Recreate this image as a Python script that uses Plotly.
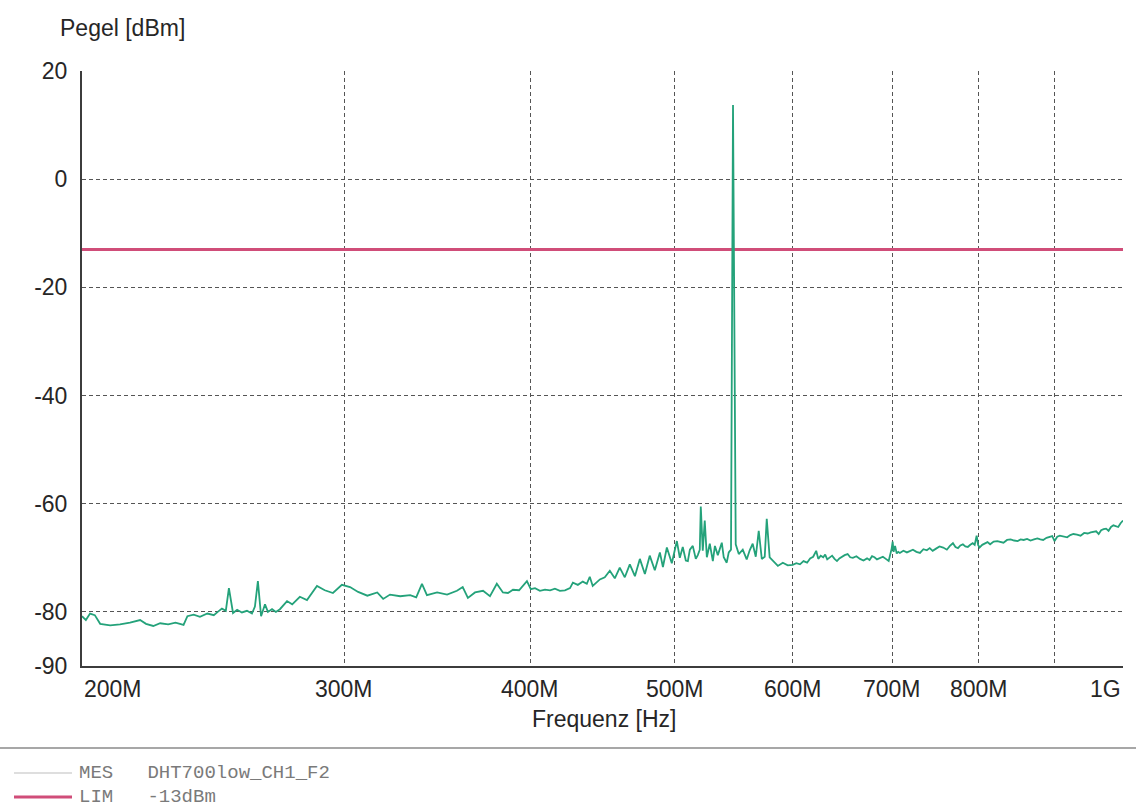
import math
import plotly.graph_objects as go

# ---------------- data ----------------
# measured trace, 200 MHz .. 600 MHz
freq_low_mhz = [
    200.0, 201.2, 202.5, 204.0, 205.7, 208.9, 212.1, 215.4, 218.8, 220.8,
    223.3, 225.7, 228.5, 231.1, 234.0, 235.4, 237.7, 240.0, 242.8, 245.2,
    246.7, 248.3, 249.8, 251.0, 252.6, 254.2, 256.1, 258.1, 260.1, 261.3,
    262.5, 263.8, 265.4, 266.6, 268.3, 269.9, 271.6, 274.6, 276.8, 278.9,
    280.1, 283.2, 285.4, 287.6, 291.1, 294.8, 298.9, 302.7, 306.5, 310.9,
    315.7, 318.6, 322.0, 327.1, 332.2, 335.3, 338.3, 340.9, 346.3, 351.7,
    357.1, 360.3, 363.2, 367.2, 371.8, 375.8, 379.8, 383.4, 386.4, 389.4,
    393.1, 395.5, 397.9, 400.3, 402.9, 406.0, 409.2, 412.4, 415.5, 418.7,
    422.0, 425.3, 427.2, 430.5, 433.8, 436.5, 438.5, 440.5, 443.3, 445.4,
    448.8, 452.3, 455.8, 459.3, 462.9, 466.5, 470.2, 473.8, 477.5, 481.1,
    484.9, 488.7, 491.0, 494.0, 497.8, 501.7, 504.0, 506.3, 508.7, 510.3,
    511.9, 514.2, 516.6, 518.2, 519.8, 520.6, 522.2, 523.8, 525.5, 527.9,
    530.4, 532.1, 534.5, 537.8, 539.4, 541.9, 543.6, 545.5, 547.2, 549.5,
    552.1, 555.5, 558.9, 561.5, 564.1, 566.8, 569.4, 572.1, 574.7, 576.5,
    579.1, 583.7, 586.5, 591.0, 595.5,
]
level_low_dbm = [
    -80.8, -81.5, -80.3, -80.6, -82.2, -82.5, -82.3, -82.0, -81.5, -82.2,
    -82.6, -82.1, -82.3, -82.0, -82.4, -80.8, -80.5, -80.9, -80.3, -80.6,
    -80.0, -79.4, -79.8, -75.6, -80.2, -79.6, -80.1, -79.8, -80.3, -79.0,
    -74.3, -80.8, -78.6, -80.0, -79.5, -80.0, -79.5, -78.0, -78.6, -77.6,
    -77.2, -77.8, -76.5, -75.2, -76.0, -76.5, -75.0, -75.4, -76.3, -77.0,
    -76.4, -77.6, -76.8, -77.1, -76.9, -77.3, -74.8, -76.9, -76.4, -76.8,
    -76.1, -75.4, -77.4, -76.4, -76.1, -77.1, -74.8, -76.4, -76.5, -75.9,
    -76.0, -75.2, -74.3, -75.8, -75.6, -76.1, -75.9, -76.0, -75.7, -76.1,
    -76.0, -75.6, -74.6, -75.0, -74.4, -74.8, -73.5, -75.2, -74.6, -74.0,
    -73.6, -72.4, -73.8, -71.8, -73.6, -71.2, -73.4, -70.2, -73.0, -69.6,
    -72.3, -69.0, -71.7, -68.1, -71.0, -66.9, -70.0, -68.0, -70.5, -70.6,
    -68.5, -67.8, -70.2, -69.5, -68.5, -60.5, -68.7, -63.1, -69.9, -67.4,
    -70.6, -67.8, -69.5, -67.2, -69.9, -70.9, -69.0, -68.5, 13.7, -67.5,
    -69.3, -68.5, -70.3, -68.6, -67.4, -69.8, -65.0, -70.2, -69.8, -62.8,
    -69.9, -70.8, -71.5, -70.9, -71.4,
]
# measured trace, 600 MHz .. 1 GHz
freq_high_mhz = [
    600.1, 603.5, 606.9, 610.2, 613.6, 616.5, 619.4, 622.3, 624.3, 626.7,
    629.1, 631.0, 633.0, 635.4, 637.8, 640.2, 642.6, 645.0, 647.4, 650.3,
    653.3, 655.9, 658.6, 662.2, 665.9, 669.5, 673.2, 675.8, 678.4, 681.0,
    683.6, 686.7, 689.9, 693.0, 696.1, 699.3, 700.4, 701.4, 703.0, 704.8,
    706.5, 708.2, 712.1, 716.0, 719.3, 722.7, 726.6, 730.6, 734.5, 738.4,
    741.7, 745.1, 749.0, 753.0, 757.3, 761.6, 765.2, 768.8, 771.8, 774.8,
    777.7, 780.7, 783.7, 786.7, 789.7, 792.7, 795.1, 797.5, 799.3, 801.1,
    804.4, 807.7, 811.0, 814.3, 818.8, 823.4, 827.3, 831.3, 835.9, 840.5,
    845.1, 849.7, 853.6, 857.6, 862.2, 866.8, 871.4, 876.0, 880.0, 883.9,
    888.5, 893.1, 896.4, 899.6, 903.3, 907.0, 912.1, 917.3, 921.7, 926.2,
    931.3, 936.5, 941.7, 946.9, 951.3, 955.7, 959.4, 963.1, 966.8, 970.5,
    974.2, 977.9, 981.6, 985.3, 989.0, 992.6, 996.3, 1000.0,
]
level_high_dbm = [
    -71.3, -71.0, -71.2, -70.6, -70.9, -70.1, -69.8, -68.7, -70.2, -69.6,
    -69.9, -69.4, -70.3, -69.9, -69.6, -70.2, -70.6, -70.1, -69.8, -69.5,
    -69.3, -69.9, -70.0, -69.7, -70.2, -70.5, -70.1, -70.4, -69.7, -69.9,
    -70.3, -70.0, -69.8, -70.2, -70.6, -68.3, -67.0, -68.9, -67.8, -69.2,
    -68.9, -69.1, -68.7, -69.0, -68.8, -68.5, -68.9, -69.1, -68.4, -68.6,
    -68.2, -68.7, -68.3, -67.9, -68.1, -68.5, -67.8, -67.3, -68.0, -68.2,
    -67.7, -67.5, -67.9, -68.0, -67.6, -67.3, -67.6, -65.9, -67.6, -68.1,
    -67.6, -67.4, -67.1, -67.5, -67.0, -66.9, -67.1, -67.2, -66.7, -66.6,
    -66.8, -66.9, -66.6, -66.7, -66.5, -66.8, -66.6, -66.4, -66.6, -66.7,
    -66.3, -66.2, -66.0, -66.9, -66.1, -65.9, -66.0, -66.2, -65.8, -65.6,
    -65.7, -65.9, -65.4, -65.5, -65.3, -65.2, -65.1, -65.6, -64.9, -64.7,
    -64.6, -65.0, -64.3, -64.0, -64.2, -64.3, -63.6, -63.1,
]
limit_dbm = -13
x_range_mhz = [200, 1000]
y_range = [-90, 20]
x_tick_vals = [200, 300, 400, 500, 600, 700, 800, 900, 1000]
x_tick_text = ["200M", "300M", "400M", "500M", "600M", "700M", "800M", "", "1G"]
x_tick_anchor = ["left", "center", "center", "center", "center", "center", "center", "center", "right"]
y_tick_vals = [20, 0, -20, -40, -60, -80, -90]
y_tick_text = ["20", "0", "-20", "-40", "-60", "-80", "-90"]
legend_rows = [("MES", "DHT700low_CH1_F2"), ("LIM", "-13dBm")]

freq_mhz = freq_low_mhz + freq_high_mhz
level_dbm = level_low_dbm + level_high_dbm
assert len(freq_mhz) == len(level_dbm)

# ---------------- layout helpers ----------------
W, H = 1136, 807
L, R, T, B = 82, 1123, 71, 666


def px_x(p):
    return (p - L) / (R - L)


def px_y(p):
    return (B - p) / (B - T)


def fx(f):
    lo, hi = math.log10(x_range_mhz[0]), math.log10(x_range_mhz[1])
    return (math.log10(f) - lo) / (hi - lo)


FONT = "Liberation Sans, Arial, sans-serif"
MONO = "Liberation Mono, Courier New, monospace"
GREEN = "#24a27a"
PINK = "#d04d79"
GRID = "#555555"
TXT = "#262626"

fig = go.Figure()
fig.add_trace(go.Scatter(
    x=x_range_mhz, y=[limit_dbm, limit_dbm], mode="lines",
    line=dict(color=PINK, width=3.2), showlegend=False, hoverinfo="skip"))
fig.add_trace(go.Scatter(
    x=freq_mhz, y=level_dbm, mode="lines",
    line=dict(color=GREEN, width=1.8), showlegend=False))

fig.update_xaxes(
    type="log", range=[math.log10(x_range_mhz[0]), math.log10(x_range_mhz[1])],
    tickvals=x_tick_vals, showticklabels=False,
    showgrid=True, gridcolor=GRID, gridwidth=1.3, griddash="4px,3px",
    showline=True, linecolor="#3c3c3c", linewidth=2, zeroline=False, ticks="")
fig.update_yaxes(
    range=y_range, tickvals=y_tick_vals, ticktext=y_tick_text, ticklabelstandoff=8,
    tickfont=dict(family=FONT, size=23, color=TXT),
    showgrid=True, gridcolor=GRID, gridwidth=1.3, griddash="4px,3px",
    showline=True, linecolor="#3c3c3c", linewidth=2, zeroline=False, ticks="")

ann = []
for v, t, a in zip(x_tick_vals, x_tick_text, x_tick_anchor):
    if not t:
        continue
    ann.append(dict(x=fx(v), y=px_y(689), xref="paper", yref="paper",
                    text=t, showarrow=False, xanchor=a, yanchor="middle",
                    font=dict(family=FONT, size=23, color=TXT)))
ann.append(dict(x=px_x(604), y=px_y(719), xref="paper", yref="paper",
                text="Frequenz [Hz]", showarrow=False, xanchor="center", yanchor="middle",
                font=dict(family=FONT, size=23, color=TXT)))
ann.append(dict(x=px_x(58), y=px_y(28), xref="paper", yref="paper",
                text="Pegel [dBm]", showarrow=False, xanchor="left", yanchor="middle",
                font=dict(family=FONT, size=23, color=TXT)))

shapes = [dict(type="line", xref="paper", yref="paper", x0=px_x(0), x1=px_x(W),
               y0=px_y(748), y1=px_y(748), line=dict(color="#8a8a8a", width=1.5))]
row_y = [773, 797]
row_line = [dict(color="#bdbdbd", width=1.2), dict(color=PINK, width=3.2)]
for (k, name), yy, ln in zip(legend_rows, row_y, row_line):
    shapes.append(dict(type="line", xref="paper", yref="paper", x0=px_x(14), x1=px_x(72),
                       y0=px_y(yy), y1=px_y(yy), line=ln))
    ann.append(dict(x=px_x(77), y=px_y(yy), xref="paper", yref="paper",
                    text=k + "\u00a0\u00a0\u00a0" + name, showarrow=False,
                    xanchor="left", yanchor="middle",
                    font=dict(family=MONO, size=19, color="#7a7a7a")))

fig.update_layout(
    width=W, height=H, margin=dict(l=L, r=W - R, t=T, b=H - B, autoexpand=False),
    paper_bgcolor="white", plot_bgcolor="white",
    annotations=ann, shapes=shapes, showlegend=False)

fig.write_html("out.html", config={"displayModeBar": False},
               post_script="document.body.style.margin='0';document.body.style.padding='0';")
